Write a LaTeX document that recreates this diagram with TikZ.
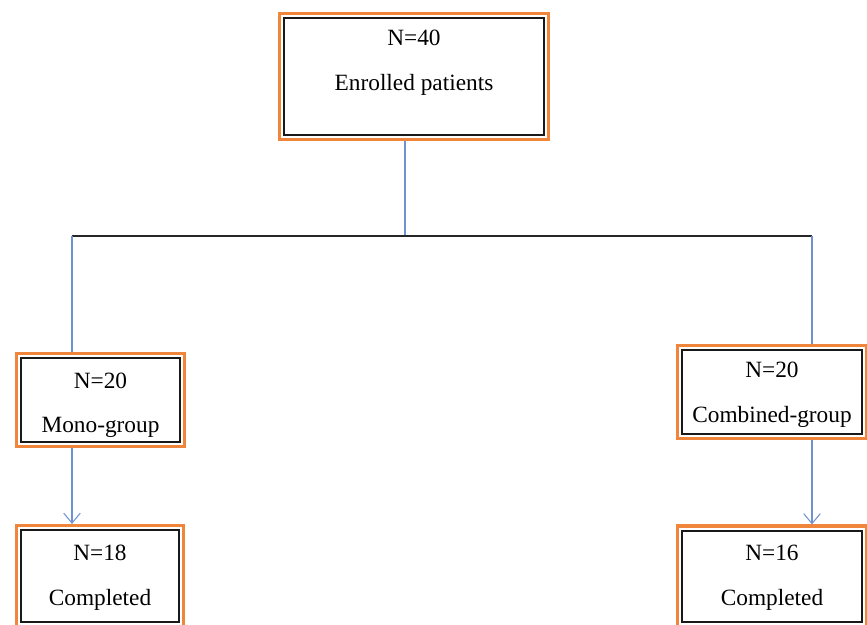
\documentclass[tikz,border=0pt]{standalone}
\usepackage{fontspec}
\setmainfont{Liberation Serif}
\usetikzlibrary{arrows.meta}

\definecolor{boxorange}{RGB}{240,133,60}
\definecolor{linkblue}{RGB}{112,146,208}

\tikzset{
  flowbox/.style={draw=boxorange, line width=3pt, fill=white, align=center,
    font=\fontsize{19.9}{38}\selectfont, inner sep=0pt,
    path picture={\draw[black!90, line width=1.8pt]
      ([shift={(3.9pt,3.9pt)}]path picture bounding box.south west) rectangle
      ([shift={(-3.9pt,-3.9pt)}]path picture bounding box.north east);}},
  bluelink/.style={draw=linkblue, line width=0.9pt},
  bluearrow/.style={bluelink, -{Straight Barb[length=0.3cm,width=0.5cm]}}
}

\begin{document}
\begin{tikzpicture}[x=0.03cm, y=-0.03cm]
            % 画布大小
            \useasboundingbox (0,0) rectangle (867,625);
            \clip (0,0) rectangle (867,625);

            % 方框
            \node[flowbox, minimum width=8.06cm, minimum height=3.77cm, text depth=27.4pt]
              (enrolled) at (414,76.5) {N=40\\Enrolled patients};
            \node[flowbox, minimum width=5.03cm, minimum height=2.78cm, text depth=-5pt]
              (mono) at (100.5,400) {\rule{0pt}{18pt}N=20\\Mono-group};
            \node[flowbox, minimum width=5.66cm, minimum height=2.78cm, text depth=-2pt]
              (combined) at (772,392) {N=20\\Combined-group};
            \node[flowbox, minimum width=5.0cm, minimum height=3.02cm, text depth=1.7pt]
              (monodone) at (100,576) {N=18\\Completed};
            \node[flowbox, minimum width=5.66cm, minimum height=3.02cm, text depth=1.7pt]
              (combdone) at (772,576.5) {N=16\\Completed};

            % 分叉点
            \coordinate (split) at (405,236);
            \coordinate (lcorner) at (72,236);
            \coordinate (rcorner) at (812,236);

            % 连线
            \draw[bluelink] (enrolled.south -| split) -- (split);
            \draw[black!85, line width=1.6pt] (lcorner) -- (rcorner);
            \draw[bluelink] (lcorner) -- (lcorner |- mono.north);
            \draw[bluelink] (rcorner) -- (rcorner |- combined.north);

            % 箭头
            \draw[bluearrow] (mono.south -| lcorner) -- (monodone.north -| lcorner);
            \draw[bluearrow] (combined.south -| rcorner) -- (combdone.north -| rcorner);
        \end{tikzpicture}
\end{document}
